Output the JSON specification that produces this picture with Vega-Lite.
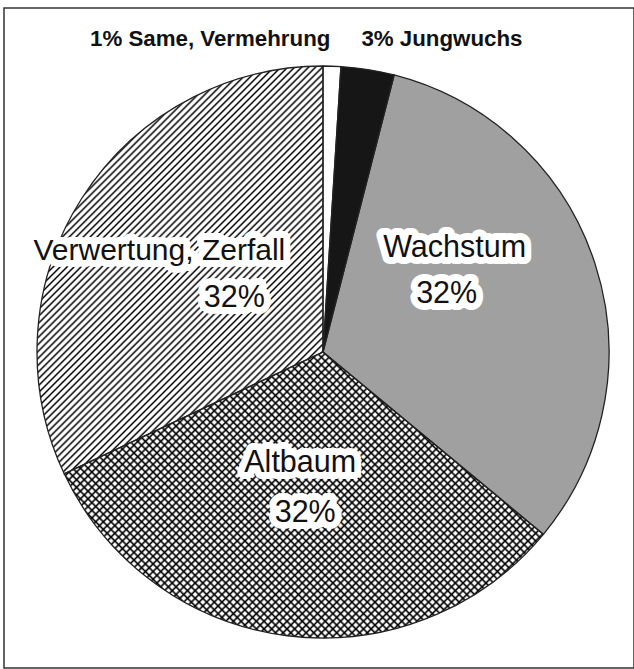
{
"$schema": "https://vega.github.io/schema/vega-lite/v6.json",
"width": 630, "height": 660,
"autosize": {"type": "none"},
"padding": {"left": 4, "top": 8, "right": 0, "bottom": 1},
"background": "white",
"view": {"stroke": "#333", "strokeWidth": 1.5, "fill": "white"},
"config": {"view": {"stroke": "#333", "strokeWidth": 1.5}},
"title": {"text": "1% Same, Vermehrung\u00a0\u00a0\u00a0\u00a0\u00a03% Jungwuchs", "anchor": "start", "frame": "group", "dx": 86, "offset": -60, "font": "Liberation Sans", "fontSize": 22.3, "fontWeight": "bold", "color": "#111", "baseline": "alphabetic"},
"data": {"values": [
{"cat": "Same", "idx": 1, "value": 1, "l1": "", "l2": ""},
{"cat": "Jungwuchs", "idx": 2, "value": 3, "l1": "", "l2": ""},
{"cat": "Wachstum", "idx": 3, "value": 32, "l1": "Wachstum", "l2": "32%"},
{"cat": "Altbaum", "idx": 4, "value": 32, "l1": "Altbaum", "l2": "32%"},
{"cat": "Verwertung", "idx": 5, "value": 32, "l1": "Verwertung, Zerfall", "l2": "32%"}
]},
"encoding": {
"theta": {"field": "value", "type": "quantitative", "stack": true},
"order": {"field": "idx", "type": "quantitative"}
},
"layer": [
{"mark": {"type": "arc", "outerRadius": 286, "xOffset": 4, "yOffset": 14},
 "encoding": {"fill": {"condition": [{"test": "datum.cat==='Jungwuchs'", "value": "#161616"}, {"test": "datum.cat==='Wachstum'", "value": "#a0a0a0"}], "value": "#ffffff"}}},
{"mark": {"type": "arc", "outerRadius": 286, "xOffset": 4, "yOffset": 14},
 "encoding": {"fill": {"condition": [
 {"test": "datum.cat==='Verwertung'", "value": {"gradient": "linear", "x1": 0, "y1": 0, "x2": 0.7995, "y2": 1.1406, "stops": [
{"offset":0,"color":"#0000"},{"offset":0.003,"color":"#000"},{"offset":0.006,"color":"#0000"},
{"offset":0.01,"color":"#0000"},{"offset":0.013,"color":"#000"},{"offset":0.016,"color":"#0000"},
{"offset":0.02,"color":"#0000"},{"offset":0.023,"color":"#000"},{"offset":0.026,"color":"#0000"},
{"offset":0.03,"color":"#0000"},{"offset":0.033,"color":"#000"},{"offset":0.036,"color":"#0000"},
{"offset":0.04,"color":"#0000"},{"offset":0.043,"color":"#000"},{"offset":0.046,"color":"#0000"},
{"offset":0.05,"color":"#0000"},{"offset":0.053,"color":"#000"},{"offset":0.056,"color":"#0000"},
{"offset":0.06,"color":"#0000"},{"offset":0.063,"color":"#000"},{"offset":0.066,"color":"#0000"},
{"offset":0.07,"color":"#0000"},{"offset":0.073,"color":"#000"},{"offset":0.076,"color":"#0000"},
{"offset":0.08,"color":"#0000"},{"offset":0.083,"color":"#000"},{"offset":0.086,"color":"#0000"},
{"offset":0.09,"color":"#0000"},{"offset":0.093,"color":"#000"},{"offset":0.096,"color":"#0000"},
{"offset":0.10,"color":"#0000"},{"offset":0.103,"color":"#000"},{"offset":0.106,"color":"#0000"},
{"offset":0.11,"color":"#0000"},{"offset":0.113,"color":"#000"},{"offset":0.116,"color":"#0000"},
{"offset":0.12,"color":"#0000"},{"offset":0.123,"color":"#000"},{"offset":0.126,"color":"#0000"},
{"offset":0.13,"color":"#0000"},{"offset":0.133,"color":"#000"},{"offset":0.136,"color":"#0000"},
{"offset":0.14,"color":"#0000"},{"offset":0.143,"color":"#000"},{"offset":0.146,"color":"#0000"},
{"offset":0.15,"color":"#0000"},{"offset":0.153,"color":"#000"},{"offset":0.156,"color":"#0000"},
{"offset":0.16,"color":"#0000"},{"offset":0.163,"color":"#000"},{"offset":0.166,"color":"#0000"},
{"offset":0.17,"color":"#0000"},{"offset":0.173,"color":"#000"},{"offset":0.176,"color":"#0000"},
{"offset":0.18,"color":"#0000"},{"offset":0.183,"color":"#000"},{"offset":0.186,"color":"#0000"},
{"offset":0.19,"color":"#0000"},{"offset":0.193,"color":"#000"},{"offset":0.196,"color":"#0000"},
{"offset":0.20,"color":"#0000"},{"offset":0.203,"color":"#000"},{"offset":0.206,"color":"#0000"},
{"offset":0.21,"color":"#0000"},{"offset":0.213,"color":"#000"},{"offset":0.216,"color":"#0000"},
{"offset":0.22,"color":"#0000"},{"offset":0.223,"color":"#000"},{"offset":0.226,"color":"#0000"},
{"offset":0.23,"color":"#0000"},{"offset":0.233,"color":"#000"},{"offset":0.236,"color":"#0000"},
{"offset":0.24,"color":"#0000"},{"offset":0.243,"color":"#000"},{"offset":0.246,"color":"#0000"},
{"offset":0.25,"color":"#0000"},{"offset":0.253,"color":"#000"},{"offset":0.256,"color":"#0000"},
{"offset":0.26,"color":"#0000"},{"offset":0.263,"color":"#000"},{"offset":0.266,"color":"#0000"},
{"offset":0.27,"color":"#0000"},{"offset":0.273,"color":"#000"},{"offset":0.276,"color":"#0000"},
{"offset":0.28,"color":"#0000"},{"offset":0.283,"color":"#000"},{"offset":0.286,"color":"#0000"},
{"offset":0.29,"color":"#0000"},{"offset":0.293,"color":"#000"},{"offset":0.296,"color":"#0000"},
{"offset":0.30,"color":"#0000"},{"offset":0.303,"color":"#000"},{"offset":0.306,"color":"#0000"},
{"offset":0.31,"color":"#0000"},{"offset":0.313,"color":"#000"},{"offset":0.316,"color":"#0000"},
{"offset":0.32,"color":"#0000"},{"offset":0.323,"color":"#000"},{"offset":0.326,"color":"#0000"},
{"offset":0.33,"color":"#0000"},{"offset":0.333,"color":"#000"},{"offset":0.336,"color":"#0000"},
{"offset":0.34,"color":"#0000"},{"offset":0.343,"color":"#000"},{"offset":0.346,"color":"#0000"},
{"offset":0.35,"color":"#0000"},{"offset":0.353,"color":"#000"},{"offset":0.356,"color":"#0000"},
{"offset":0.36,"color":"#0000"},{"offset":0.363,"color":"#000"},{"offset":0.366,"color":"#0000"},
{"offset":0.37,"color":"#0000"},{"offset":0.373,"color":"#000"},{"offset":0.376,"color":"#0000"},
{"offset":0.38,"color":"#0000"},{"offset":0.383,"color":"#000"},{"offset":0.386,"color":"#0000"},
{"offset":0.39,"color":"#0000"},{"offset":0.393,"color":"#000"},{"offset":0.396,"color":"#0000"},
{"offset":0.40,"color":"#0000"},{"offset":0.403,"color":"#000"},{"offset":0.406,"color":"#0000"},
{"offset":0.41,"color":"#0000"},{"offset":0.413,"color":"#000"},{"offset":0.416,"color":"#0000"},
{"offset":0.42,"color":"#0000"},{"offset":0.423,"color":"#000"},{"offset":0.426,"color":"#0000"},
{"offset":0.43,"color":"#0000"},{"offset":0.433,"color":"#000"},{"offset":0.436,"color":"#0000"},
{"offset":0.44,"color":"#0000"},{"offset":0.443,"color":"#000"},{"offset":0.446,"color":"#0000"},
{"offset":0.45,"color":"#0000"},{"offset":0.453,"color":"#000"},{"offset":0.456,"color":"#0000"},
{"offset":0.46,"color":"#0000"},{"offset":0.463,"color":"#000"},{"offset":0.466,"color":"#0000"},
{"offset":0.47,"color":"#0000"},{"offset":0.473,"color":"#000"},{"offset":0.476,"color":"#0000"},
{"offset":0.48,"color":"#0000"},{"offset":0.483,"color":"#000"},{"offset":0.486,"color":"#0000"},
{"offset":0.49,"color":"#0000"},{"offset":0.493,"color":"#000"},{"offset":0.496,"color":"#0000"},
{"offset":0.50,"color":"#0000"},{"offset":0.503,"color":"#000"},{"offset":0.506,"color":"#0000"},
{"offset":0.51,"color":"#0000"},{"offset":0.513,"color":"#000"},{"offset":0.516,"color":"#0000"},
{"offset":0.52,"color":"#0000"},{"offset":0.523,"color":"#000"},{"offset":0.526,"color":"#0000"},
{"offset":0.53,"color":"#0000"},{"offset":0.533,"color":"#000"},{"offset":0.536,"color":"#0000"},
{"offset":0.54,"color":"#0000"},{"offset":0.543,"color":"#000"},{"offset":0.546,"color":"#0000"},
{"offset":0.55,"color":"#0000"},{"offset":0.553,"color":"#000"},{"offset":0.556,"color":"#0000"},
{"offset":0.56,"color":"#0000"},{"offset":0.563,"color":"#000"},{"offset":0.566,"color":"#0000"},
{"offset":0.57,"color":"#0000"},{"offset":0.573,"color":"#000"},{"offset":0.576,"color":"#0000"},
{"offset":0.58,"color":"#0000"},{"offset":0.583,"color":"#000"},{"offset":0.586,"color":"#0000"},
{"offset":0.59,"color":"#0000"},{"offset":0.593,"color":"#000"},{"offset":0.596,"color":"#0000"},
{"offset":0.60,"color":"#0000"},{"offset":0.603,"color":"#000"},{"offset":0.606,"color":"#0000"},
{"offset":0.61,"color":"#0000"},{"offset":0.613,"color":"#000"},{"offset":0.616,"color":"#0000"},
{"offset":0.62,"color":"#0000"},{"offset":0.623,"color":"#000"},{"offset":0.626,"color":"#0000"},
{"offset":0.63,"color":"#0000"},{"offset":0.633,"color":"#000"},{"offset":0.636,"color":"#0000"},
{"offset":0.64,"color":"#0000"},{"offset":0.643,"color":"#000"},{"offset":0.646,"color":"#0000"},
{"offset":0.65,"color":"#0000"},{"offset":0.653,"color":"#000"},{"offset":0.656,"color":"#0000"},
{"offset":0.66,"color":"#0000"},{"offset":0.663,"color":"#000"},{"offset":0.666,"color":"#0000"},
{"offset":0.67,"color":"#0000"},{"offset":0.673,"color":"#000"},{"offset":0.676,"color":"#0000"},
{"offset":0.68,"color":"#0000"},{"offset":0.683,"color":"#000"},{"offset":0.686,"color":"#0000"},
{"offset":0.69,"color":"#0000"},{"offset":0.693,"color":"#000"},{"offset":0.696,"color":"#0000"},
{"offset":0.70,"color":"#0000"},{"offset":0.703,"color":"#000"},{"offset":0.706,"color":"#0000"},
{"offset":0.71,"color":"#0000"},{"offset":0.713,"color":"#000"},{"offset":0.716,"color":"#0000"},
{"offset":0.72,"color":"#0000"},{"offset":0.723,"color":"#000"},{"offset":0.726,"color":"#0000"},
{"offset":0.73,"color":"#0000"},{"offset":0.733,"color":"#000"},{"offset":0.736,"color":"#0000"},
{"offset":0.74,"color":"#0000"},{"offset":0.743,"color":"#000"},{"offset":0.746,"color":"#0000"},
{"offset":0.75,"color":"#0000"},{"offset":0.753,"color":"#000"},{"offset":0.756,"color":"#0000"},
{"offset":0.76,"color":"#0000"},{"offset":0.763,"color":"#000"},{"offset":0.766,"color":"#0000"},
{"offset":0.77,"color":"#0000"},{"offset":0.773,"color":"#000"},{"offset":0.776,"color":"#0000"},
{"offset":0.78,"color":"#0000"},{"offset":0.783,"color":"#000"},{"offset":0.786,"color":"#0000"},
{"offset":0.79,"color":"#0000"},{"offset":0.793,"color":"#000"},{"offset":0.796,"color":"#0000"},
{"offset":0.80,"color":"#0000"},{"offset":0.803,"color":"#000"},{"offset":0.806,"color":"#0000"},
{"offset":0.81,"color":"#0000"},{"offset":0.813,"color":"#000"},{"offset":0.816,"color":"#0000"},
{"offset":0.82,"color":"#0000"},{"offset":0.823,"color":"#000"},{"offset":0.826,"color":"#0000"},
{"offset":0.83,"color":"#0000"},{"offset":0.833,"color":"#000"},{"offset":0.836,"color":"#0000"},
{"offset":0.84,"color":"#0000"},{"offset":0.843,"color":"#000"},{"offset":0.846,"color":"#0000"},
{"offset":0.85,"color":"#0000"},{"offset":0.853,"color":"#000"},{"offset":0.856,"color":"#0000"},
{"offset":0.86,"color":"#0000"},{"offset":0.863,"color":"#000"},{"offset":0.866,"color":"#0000"},
{"offset":0.87,"color":"#0000"},{"offset":0.873,"color":"#000"},{"offset":0.876,"color":"#0000"},
{"offset":0.88,"color":"#0000"},{"offset":0.883,"color":"#000"},{"offset":0.886,"color":"#0000"},
{"offset":0.89,"color":"#0000"},{"offset":0.893,"color":"#000"},{"offset":0.896,"color":"#0000"},
{"offset":0.90,"color":"#0000"},{"offset":0.903,"color":"#000"},{"offset":0.906,"color":"#0000"},
{"offset":0.91,"color":"#0000"},{"offset":0.913,"color":"#000"},{"offset":0.916,"color":"#0000"},
{"offset":0.92,"color":"#0000"},{"offset":0.923,"color":"#000"},{"offset":0.926,"color":"#0000"},
{"offset":0.93,"color":"#0000"},{"offset":0.933,"color":"#000"},{"offset":0.936,"color":"#0000"},
{"offset":0.94,"color":"#0000"},{"offset":0.943,"color":"#000"},{"offset":0.946,"color":"#0000"},
{"offset":0.95,"color":"#0000"},{"offset":0.953,"color":"#000"},{"offset":0.956,"color":"#0000"},
{"offset":0.96,"color":"#0000"},{"offset":0.963,"color":"#000"},{"offset":0.966,"color":"#0000"},
{"offset":0.97,"color":"#0000"},{"offset":0.973,"color":"#000"},{"offset":0.976,"color":"#0000"},
{"offset":0.98,"color":"#0000"},{"offset":0.983,"color":"#000"},{"offset":0.986,"color":"#0000"},
{"offset":0.99,"color":"#0000"},{"offset":0.993,"color":"#000"},{"offset":0.996,"color":"#0000"}
]}},
 {"test": "datum.cat==='Altbaum'", "value": {"gradient": "linear", "x1": 0, "y1": 0, "x2": 1.1775, "y2": 0.7027, "stops": [
{"offset":0,"color":"#0000"},{"offset":0.003,"color":"#000"},{"offset":0.006,"color":"#0000"},
{"offset":0.01,"color":"#0000"},{"offset":0.013,"color":"#000"},{"offset":0.016,"color":"#0000"},
{"offset":0.02,"color":"#0000"},{"offset":0.023,"color":"#000"},{"offset":0.026,"color":"#0000"},
{"offset":0.03,"color":"#0000"},{"offset":0.033,"color":"#000"},{"offset":0.036,"color":"#0000"},
{"offset":0.04,"color":"#0000"},{"offset":0.043,"color":"#000"},{"offset":0.046,"color":"#0000"},
{"offset":0.05,"color":"#0000"},{"offset":0.053,"color":"#000"},{"offset":0.056,"color":"#0000"},
{"offset":0.06,"color":"#0000"},{"offset":0.063,"color":"#000"},{"offset":0.066,"color":"#0000"},
{"offset":0.07,"color":"#0000"},{"offset":0.073,"color":"#000"},{"offset":0.076,"color":"#0000"},
{"offset":0.08,"color":"#0000"},{"offset":0.083,"color":"#000"},{"offset":0.086,"color":"#0000"},
{"offset":0.09,"color":"#0000"},{"offset":0.093,"color":"#000"},{"offset":0.096,"color":"#0000"},
{"offset":0.10,"color":"#0000"},{"offset":0.103,"color":"#000"},{"offset":0.106,"color":"#0000"},
{"offset":0.11,"color":"#0000"},{"offset":0.113,"color":"#000"},{"offset":0.116,"color":"#0000"},
{"offset":0.12,"color":"#0000"},{"offset":0.123,"color":"#000"},{"offset":0.126,"color":"#0000"},
{"offset":0.13,"color":"#0000"},{"offset":0.133,"color":"#000"},{"offset":0.136,"color":"#0000"},
{"offset":0.14,"color":"#0000"},{"offset":0.143,"color":"#000"},{"offset":0.146,"color":"#0000"},
{"offset":0.15,"color":"#0000"},{"offset":0.153,"color":"#000"},{"offset":0.156,"color":"#0000"},
{"offset":0.16,"color":"#0000"},{"offset":0.163,"color":"#000"},{"offset":0.166,"color":"#0000"},
{"offset":0.17,"color":"#0000"},{"offset":0.173,"color":"#000"},{"offset":0.176,"color":"#0000"},
{"offset":0.18,"color":"#0000"},{"offset":0.183,"color":"#000"},{"offset":0.186,"color":"#0000"},
{"offset":0.19,"color":"#0000"},{"offset":0.193,"color":"#000"},{"offset":0.196,"color":"#0000"},
{"offset":0.20,"color":"#0000"},{"offset":0.203,"color":"#000"},{"offset":0.206,"color":"#0000"},
{"offset":0.21,"color":"#0000"},{"offset":0.213,"color":"#000"},{"offset":0.216,"color":"#0000"},
{"offset":0.22,"color":"#0000"},{"offset":0.223,"color":"#000"},{"offset":0.226,"color":"#0000"},
{"offset":0.23,"color":"#0000"},{"offset":0.233,"color":"#000"},{"offset":0.236,"color":"#0000"},
{"offset":0.24,"color":"#0000"},{"offset":0.243,"color":"#000"},{"offset":0.246,"color":"#0000"},
{"offset":0.25,"color":"#0000"},{"offset":0.253,"color":"#000"},{"offset":0.256,"color":"#0000"},
{"offset":0.26,"color":"#0000"},{"offset":0.263,"color":"#000"},{"offset":0.266,"color":"#0000"},
{"offset":0.27,"color":"#0000"},{"offset":0.273,"color":"#000"},{"offset":0.276,"color":"#0000"},
{"offset":0.28,"color":"#0000"},{"offset":0.283,"color":"#000"},{"offset":0.286,"color":"#0000"},
{"offset":0.29,"color":"#0000"},{"offset":0.293,"color":"#000"},{"offset":0.296,"color":"#0000"},
{"offset":0.30,"color":"#0000"},{"offset":0.303,"color":"#000"},{"offset":0.306,"color":"#0000"},
{"offset":0.31,"color":"#0000"},{"offset":0.313,"color":"#000"},{"offset":0.316,"color":"#0000"},
{"offset":0.32,"color":"#0000"},{"offset":0.323,"color":"#000"},{"offset":0.326,"color":"#0000"},
{"offset":0.33,"color":"#0000"},{"offset":0.333,"color":"#000"},{"offset":0.336,"color":"#0000"},
{"offset":0.34,"color":"#0000"},{"offset":0.343,"color":"#000"},{"offset":0.346,"color":"#0000"},
{"offset":0.35,"color":"#0000"},{"offset":0.353,"color":"#000"},{"offset":0.356,"color":"#0000"},
{"offset":0.36,"color":"#0000"},{"offset":0.363,"color":"#000"},{"offset":0.366,"color":"#0000"},
{"offset":0.37,"color":"#0000"},{"offset":0.373,"color":"#000"},{"offset":0.376,"color":"#0000"},
{"offset":0.38,"color":"#0000"},{"offset":0.383,"color":"#000"},{"offset":0.386,"color":"#0000"},
{"offset":0.39,"color":"#0000"},{"offset":0.393,"color":"#000"},{"offset":0.396,"color":"#0000"},
{"offset":0.40,"color":"#0000"},{"offset":0.403,"color":"#000"},{"offset":0.406,"color":"#0000"},
{"offset":0.41,"color":"#0000"},{"offset":0.413,"color":"#000"},{"offset":0.416,"color":"#0000"},
{"offset":0.42,"color":"#0000"},{"offset":0.423,"color":"#000"},{"offset":0.426,"color":"#0000"},
{"offset":0.43,"color":"#0000"},{"offset":0.433,"color":"#000"},{"offset":0.436,"color":"#0000"},
{"offset":0.44,"color":"#0000"},{"offset":0.443,"color":"#000"},{"offset":0.446,"color":"#0000"},
{"offset":0.45,"color":"#0000"},{"offset":0.453,"color":"#000"},{"offset":0.456,"color":"#0000"},
{"offset":0.46,"color":"#0000"},{"offset":0.463,"color":"#000"},{"offset":0.466,"color":"#0000"},
{"offset":0.47,"color":"#0000"},{"offset":0.473,"color":"#000"},{"offset":0.476,"color":"#0000"},
{"offset":0.48,"color":"#0000"},{"offset":0.483,"color":"#000"},{"offset":0.486,"color":"#0000"},
{"offset":0.49,"color":"#0000"},{"offset":0.493,"color":"#000"},{"offset":0.496,"color":"#0000"},
{"offset":0.50,"color":"#0000"},{"offset":0.503,"color":"#000"},{"offset":0.506,"color":"#0000"},
{"offset":0.51,"color":"#0000"},{"offset":0.513,"color":"#000"},{"offset":0.516,"color":"#0000"},
{"offset":0.52,"color":"#0000"},{"offset":0.523,"color":"#000"},{"offset":0.526,"color":"#0000"},
{"offset":0.53,"color":"#0000"},{"offset":0.533,"color":"#000"},{"offset":0.536,"color":"#0000"},
{"offset":0.54,"color":"#0000"},{"offset":0.543,"color":"#000"},{"offset":0.546,"color":"#0000"},
{"offset":0.55,"color":"#0000"},{"offset":0.553,"color":"#000"},{"offset":0.556,"color":"#0000"},
{"offset":0.56,"color":"#0000"},{"offset":0.563,"color":"#000"},{"offset":0.566,"color":"#0000"},
{"offset":0.57,"color":"#0000"},{"offset":0.573,"color":"#000"},{"offset":0.576,"color":"#0000"},
{"offset":0.58,"color":"#0000"},{"offset":0.583,"color":"#000"},{"offset":0.586,"color":"#0000"},
{"offset":0.59,"color":"#0000"},{"offset":0.593,"color":"#000"},{"offset":0.596,"color":"#0000"},
{"offset":0.60,"color":"#0000"},{"offset":0.603,"color":"#000"},{"offset":0.606,"color":"#0000"},
{"offset":0.61,"color":"#0000"},{"offset":0.613,"color":"#000"},{"offset":0.616,"color":"#0000"},
{"offset":0.62,"color":"#0000"},{"offset":0.623,"color":"#000"},{"offset":0.626,"color":"#0000"},
{"offset":0.63,"color":"#0000"},{"offset":0.633,"color":"#000"},{"offset":0.636,"color":"#0000"},
{"offset":0.64,"color":"#0000"},{"offset":0.643,"color":"#000"},{"offset":0.646,"color":"#0000"},
{"offset":0.65,"color":"#0000"},{"offset":0.653,"color":"#000"},{"offset":0.656,"color":"#0000"},
{"offset":0.66,"color":"#0000"},{"offset":0.663,"color":"#000"},{"offset":0.666,"color":"#0000"},
{"offset":0.67,"color":"#0000"},{"offset":0.673,"color":"#000"},{"offset":0.676,"color":"#0000"},
{"offset":0.68,"color":"#0000"},{"offset":0.683,"color":"#000"},{"offset":0.686,"color":"#0000"},
{"offset":0.69,"color":"#0000"},{"offset":0.693,"color":"#000"},{"offset":0.696,"color":"#0000"},
{"offset":0.70,"color":"#0000"},{"offset":0.703,"color":"#000"},{"offset":0.706,"color":"#0000"},
{"offset":0.71,"color":"#0000"},{"offset":0.713,"color":"#000"},{"offset":0.716,"color":"#0000"},
{"offset":0.72,"color":"#0000"},{"offset":0.723,"color":"#000"},{"offset":0.726,"color":"#0000"},
{"offset":0.73,"color":"#0000"},{"offset":0.733,"color":"#000"},{"offset":0.736,"color":"#0000"},
{"offset":0.74,"color":"#0000"},{"offset":0.743,"color":"#000"},{"offset":0.746,"color":"#0000"},
{"offset":0.75,"color":"#0000"},{"offset":0.753,"color":"#000"},{"offset":0.756,"color":"#0000"},
{"offset":0.76,"color":"#0000"},{"offset":0.763,"color":"#000"},{"offset":0.766,"color":"#0000"},
{"offset":0.77,"color":"#0000"},{"offset":0.773,"color":"#000"},{"offset":0.776,"color":"#0000"},
{"offset":0.78,"color":"#0000"},{"offset":0.783,"color":"#000"},{"offset":0.786,"color":"#0000"},
{"offset":0.79,"color":"#0000"},{"offset":0.793,"color":"#000"},{"offset":0.796,"color":"#0000"},
{"offset":0.80,"color":"#0000"},{"offset":0.803,"color":"#000"},{"offset":0.806,"color":"#0000"},
{"offset":0.81,"color":"#0000"},{"offset":0.813,"color":"#000"},{"offset":0.816,"color":"#0000"},
{"offset":0.82,"color":"#0000"},{"offset":0.823,"color":"#000"},{"offset":0.826,"color":"#0000"},
{"offset":0.83,"color":"#0000"},{"offset":0.833,"color":"#000"},{"offset":0.836,"color":"#0000"},
{"offset":0.84,"color":"#0000"},{"offset":0.843,"color":"#000"},{"offset":0.846,"color":"#0000"},
{"offset":0.85,"color":"#0000"},{"offset":0.853,"color":"#000"},{"offset":0.856,"color":"#0000"},
{"offset":0.86,"color":"#0000"},{"offset":0.863,"color":"#000"},{"offset":0.866,"color":"#0000"},
{"offset":0.87,"color":"#0000"},{"offset":0.873,"color":"#000"},{"offset":0.876,"color":"#0000"},
{"offset":0.88,"color":"#0000"},{"offset":0.883,"color":"#000"},{"offset":0.886,"color":"#0000"},
{"offset":0.89,"color":"#0000"},{"offset":0.893,"color":"#000"},{"offset":0.896,"color":"#0000"},
{"offset":0.90,"color":"#0000"},{"offset":0.903,"color":"#000"},{"offset":0.906,"color":"#0000"},
{"offset":0.91,"color":"#0000"},{"offset":0.913,"color":"#000"},{"offset":0.916,"color":"#0000"},
{"offset":0.92,"color":"#0000"},{"offset":0.923,"color":"#000"},{"offset":0.926,"color":"#0000"},
{"offset":0.93,"color":"#0000"},{"offset":0.933,"color":"#000"},{"offset":0.936,"color":"#0000"},
{"offset":0.94,"color":"#0000"},{"offset":0.943,"color":"#000"},{"offset":0.946,"color":"#0000"},
{"offset":0.95,"color":"#0000"},{"offset":0.953,"color":"#000"},{"offset":0.956,"color":"#0000"},
{"offset":0.96,"color":"#0000"},{"offset":0.963,"color":"#000"},{"offset":0.966,"color":"#0000"},
{"offset":0.97,"color":"#0000"},{"offset":0.973,"color":"#000"},{"offset":0.976,"color":"#0000"},
{"offset":0.98,"color":"#0000"},{"offset":0.983,"color":"#000"},{"offset":0.986,"color":"#0000"},
{"offset":0.99,"color":"#0000"},{"offset":0.993,"color":"#000"},{"offset":0.996,"color":"#0000"}
]}}], "value": "#0000"}}},
{"mark": {"type": "arc", "outerRadius": 286, "xOffset": 4, "yOffset": 14, "stroke": "#222", "strokeWidth": 1.3},
 "encoding": {"fill": {"condition": {"test": "datum.cat==='Altbaum'", "value": {"gradient": "linear", "x1": 0, "y1": 1, "x2": 1.1775, "y2": 0.2973, "stops": [
{"offset":0,"color":"#0000"},{"offset":0.003,"color":"#000"},{"offset":0.006,"color":"#0000"},
{"offset":0.01,"color":"#0000"},{"offset":0.013,"color":"#000"},{"offset":0.016,"color":"#0000"},
{"offset":0.02,"color":"#0000"},{"offset":0.023,"color":"#000"},{"offset":0.026,"color":"#0000"},
{"offset":0.03,"color":"#0000"},{"offset":0.033,"color":"#000"},{"offset":0.036,"color":"#0000"},
{"offset":0.04,"color":"#0000"},{"offset":0.043,"color":"#000"},{"offset":0.046,"color":"#0000"},
{"offset":0.05,"color":"#0000"},{"offset":0.053,"color":"#000"},{"offset":0.056,"color":"#0000"},
{"offset":0.06,"color":"#0000"},{"offset":0.063,"color":"#000"},{"offset":0.066,"color":"#0000"},
{"offset":0.07,"color":"#0000"},{"offset":0.073,"color":"#000"},{"offset":0.076,"color":"#0000"},
{"offset":0.08,"color":"#0000"},{"offset":0.083,"color":"#000"},{"offset":0.086,"color":"#0000"},
{"offset":0.09,"color":"#0000"},{"offset":0.093,"color":"#000"},{"offset":0.096,"color":"#0000"},
{"offset":0.10,"color":"#0000"},{"offset":0.103,"color":"#000"},{"offset":0.106,"color":"#0000"},
{"offset":0.11,"color":"#0000"},{"offset":0.113,"color":"#000"},{"offset":0.116,"color":"#0000"},
{"offset":0.12,"color":"#0000"},{"offset":0.123,"color":"#000"},{"offset":0.126,"color":"#0000"},
{"offset":0.13,"color":"#0000"},{"offset":0.133,"color":"#000"},{"offset":0.136,"color":"#0000"},
{"offset":0.14,"color":"#0000"},{"offset":0.143,"color":"#000"},{"offset":0.146,"color":"#0000"},
{"offset":0.15,"color":"#0000"},{"offset":0.153,"color":"#000"},{"offset":0.156,"color":"#0000"},
{"offset":0.16,"color":"#0000"},{"offset":0.163,"color":"#000"},{"offset":0.166,"color":"#0000"},
{"offset":0.17,"color":"#0000"},{"offset":0.173,"color":"#000"},{"offset":0.176,"color":"#0000"},
{"offset":0.18,"color":"#0000"},{"offset":0.183,"color":"#000"},{"offset":0.186,"color":"#0000"},
{"offset":0.19,"color":"#0000"},{"offset":0.193,"color":"#000"},{"offset":0.196,"color":"#0000"},
{"offset":0.20,"color":"#0000"},{"offset":0.203,"color":"#000"},{"offset":0.206,"color":"#0000"},
{"offset":0.21,"color":"#0000"},{"offset":0.213,"color":"#000"},{"offset":0.216,"color":"#0000"},
{"offset":0.22,"color":"#0000"},{"offset":0.223,"color":"#000"},{"offset":0.226,"color":"#0000"},
{"offset":0.23,"color":"#0000"},{"offset":0.233,"color":"#000"},{"offset":0.236,"color":"#0000"},
{"offset":0.24,"color":"#0000"},{"offset":0.243,"color":"#000"},{"offset":0.246,"color":"#0000"},
{"offset":0.25,"color":"#0000"},{"offset":0.253,"color":"#000"},{"offset":0.256,"color":"#0000"},
{"offset":0.26,"color":"#0000"},{"offset":0.263,"color":"#000"},{"offset":0.266,"color":"#0000"},
{"offset":0.27,"color":"#0000"},{"offset":0.273,"color":"#000"},{"offset":0.276,"color":"#0000"},
{"offset":0.28,"color":"#0000"},{"offset":0.283,"color":"#000"},{"offset":0.286,"color":"#0000"},
{"offset":0.29,"color":"#0000"},{"offset":0.293,"color":"#000"},{"offset":0.296,"color":"#0000"},
{"offset":0.30,"color":"#0000"},{"offset":0.303,"color":"#000"},{"offset":0.306,"color":"#0000"},
{"offset":0.31,"color":"#0000"},{"offset":0.313,"color":"#000"},{"offset":0.316,"color":"#0000"},
{"offset":0.32,"color":"#0000"},{"offset":0.323,"color":"#000"},{"offset":0.326,"color":"#0000"},
{"offset":0.33,"color":"#0000"},{"offset":0.333,"color":"#000"},{"offset":0.336,"color":"#0000"},
{"offset":0.34,"color":"#0000"},{"offset":0.343,"color":"#000"},{"offset":0.346,"color":"#0000"},
{"offset":0.35,"color":"#0000"},{"offset":0.353,"color":"#000"},{"offset":0.356,"color":"#0000"},
{"offset":0.36,"color":"#0000"},{"offset":0.363,"color":"#000"},{"offset":0.366,"color":"#0000"},
{"offset":0.37,"color":"#0000"},{"offset":0.373,"color":"#000"},{"offset":0.376,"color":"#0000"},
{"offset":0.38,"color":"#0000"},{"offset":0.383,"color":"#000"},{"offset":0.386,"color":"#0000"},
{"offset":0.39,"color":"#0000"},{"offset":0.393,"color":"#000"},{"offset":0.396,"color":"#0000"},
{"offset":0.40,"color":"#0000"},{"offset":0.403,"color":"#000"},{"offset":0.406,"color":"#0000"},
{"offset":0.41,"color":"#0000"},{"offset":0.413,"color":"#000"},{"offset":0.416,"color":"#0000"},
{"offset":0.42,"color":"#0000"},{"offset":0.423,"color":"#000"},{"offset":0.426,"color":"#0000"},
{"offset":0.43,"color":"#0000"},{"offset":0.433,"color":"#000"},{"offset":0.436,"color":"#0000"},
{"offset":0.44,"color":"#0000"},{"offset":0.443,"color":"#000"},{"offset":0.446,"color":"#0000"},
{"offset":0.45,"color":"#0000"},{"offset":0.453,"color":"#000"},{"offset":0.456,"color":"#0000"},
{"offset":0.46,"color":"#0000"},{"offset":0.463,"color":"#000"},{"offset":0.466,"color":"#0000"},
{"offset":0.47,"color":"#0000"},{"offset":0.473,"color":"#000"},{"offset":0.476,"color":"#0000"},
{"offset":0.48,"color":"#0000"},{"offset":0.483,"color":"#000"},{"offset":0.486,"color":"#0000"},
{"offset":0.49,"color":"#0000"},{"offset":0.493,"color":"#000"},{"offset":0.496,"color":"#0000"},
{"offset":0.50,"color":"#0000"},{"offset":0.503,"color":"#000"},{"offset":0.506,"color":"#0000"},
{"offset":0.51,"color":"#0000"},{"offset":0.513,"color":"#000"},{"offset":0.516,"color":"#0000"},
{"offset":0.52,"color":"#0000"},{"offset":0.523,"color":"#000"},{"offset":0.526,"color":"#0000"},
{"offset":0.53,"color":"#0000"},{"offset":0.533,"color":"#000"},{"offset":0.536,"color":"#0000"},
{"offset":0.54,"color":"#0000"},{"offset":0.543,"color":"#000"},{"offset":0.546,"color":"#0000"},
{"offset":0.55,"color":"#0000"},{"offset":0.553,"color":"#000"},{"offset":0.556,"color":"#0000"},
{"offset":0.56,"color":"#0000"},{"offset":0.563,"color":"#000"},{"offset":0.566,"color":"#0000"},
{"offset":0.57,"color":"#0000"},{"offset":0.573,"color":"#000"},{"offset":0.576,"color":"#0000"},
{"offset":0.58,"color":"#0000"},{"offset":0.583,"color":"#000"},{"offset":0.586,"color":"#0000"},
{"offset":0.59,"color":"#0000"},{"offset":0.593,"color":"#000"},{"offset":0.596,"color":"#0000"},
{"offset":0.60,"color":"#0000"},{"offset":0.603,"color":"#000"},{"offset":0.606,"color":"#0000"},
{"offset":0.61,"color":"#0000"},{"offset":0.613,"color":"#000"},{"offset":0.616,"color":"#0000"},
{"offset":0.62,"color":"#0000"},{"offset":0.623,"color":"#000"},{"offset":0.626,"color":"#0000"},
{"offset":0.63,"color":"#0000"},{"offset":0.633,"color":"#000"},{"offset":0.636,"color":"#0000"},
{"offset":0.64,"color":"#0000"},{"offset":0.643,"color":"#000"},{"offset":0.646,"color":"#0000"},
{"offset":0.65,"color":"#0000"},{"offset":0.653,"color":"#000"},{"offset":0.656,"color":"#0000"},
{"offset":0.66,"color":"#0000"},{"offset":0.663,"color":"#000"},{"offset":0.666,"color":"#0000"},
{"offset":0.67,"color":"#0000"},{"offset":0.673,"color":"#000"},{"offset":0.676,"color":"#0000"},
{"offset":0.68,"color":"#0000"},{"offset":0.683,"color":"#000"},{"offset":0.686,"color":"#0000"},
{"offset":0.69,"color":"#0000"},{"offset":0.693,"color":"#000"},{"offset":0.696,"color":"#0000"},
{"offset":0.70,"color":"#0000"},{"offset":0.703,"color":"#000"},{"offset":0.706,"color":"#0000"},
{"offset":0.71,"color":"#0000"},{"offset":0.713,"color":"#000"},{"offset":0.716,"color":"#0000"},
{"offset":0.72,"color":"#0000"},{"offset":0.723,"color":"#000"},{"offset":0.726,"color":"#0000"},
{"offset":0.73,"color":"#0000"},{"offset":0.733,"color":"#000"},{"offset":0.736,"color":"#0000"},
{"offset":0.74,"color":"#0000"},{"offset":0.743,"color":"#000"},{"offset":0.746,"color":"#0000"},
{"offset":0.75,"color":"#0000"},{"offset":0.753,"color":"#000"},{"offset":0.756,"color":"#0000"},
{"offset":0.76,"color":"#0000"},{"offset":0.763,"color":"#000"},{"offset":0.766,"color":"#0000"},
{"offset":0.77,"color":"#0000"},{"offset":0.773,"color":"#000"},{"offset":0.776,"color":"#0000"},
{"offset":0.78,"color":"#0000"},{"offset":0.783,"color":"#000"},{"offset":0.786,"color":"#0000"},
{"offset":0.79,"color":"#0000"},{"offset":0.793,"color":"#000"},{"offset":0.796,"color":"#0000"},
{"offset":0.80,"color":"#0000"},{"offset":0.803,"color":"#000"},{"offset":0.806,"color":"#0000"},
{"offset":0.81,"color":"#0000"},{"offset":0.813,"color":"#000"},{"offset":0.816,"color":"#0000"},
{"offset":0.82,"color":"#0000"},{"offset":0.823,"color":"#000"},{"offset":0.826,"color":"#0000"},
{"offset":0.83,"color":"#0000"},{"offset":0.833,"color":"#000"},{"offset":0.836,"color":"#0000"},
{"offset":0.84,"color":"#0000"},{"offset":0.843,"color":"#000"},{"offset":0.846,"color":"#0000"},
{"offset":0.85,"color":"#0000"},{"offset":0.853,"color":"#000"},{"offset":0.856,"color":"#0000"},
{"offset":0.86,"color":"#0000"},{"offset":0.863,"color":"#000"},{"offset":0.866,"color":"#0000"},
{"offset":0.87,"color":"#0000"},{"offset":0.873,"color":"#000"},{"offset":0.876,"color":"#0000"},
{"offset":0.88,"color":"#0000"},{"offset":0.883,"color":"#000"},{"offset":0.886,"color":"#0000"},
{"offset":0.89,"color":"#0000"},{"offset":0.893,"color":"#000"},{"offset":0.896,"color":"#0000"},
{"offset":0.90,"color":"#0000"},{"offset":0.903,"color":"#000"},{"offset":0.906,"color":"#0000"},
{"offset":0.91,"color":"#0000"},{"offset":0.913,"color":"#000"},{"offset":0.916,"color":"#0000"},
{"offset":0.92,"color":"#0000"},{"offset":0.923,"color":"#000"},{"offset":0.926,"color":"#0000"},
{"offset":0.93,"color":"#0000"},{"offset":0.933,"color":"#000"},{"offset":0.936,"color":"#0000"},
{"offset":0.94,"color":"#0000"},{"offset":0.943,"color":"#000"},{"offset":0.946,"color":"#0000"},
{"offset":0.95,"color":"#0000"},{"offset":0.953,"color":"#000"},{"offset":0.956,"color":"#0000"},
{"offset":0.96,"color":"#0000"},{"offset":0.963,"color":"#000"},{"offset":0.966,"color":"#0000"},
{"offset":0.97,"color":"#0000"},{"offset":0.973,"color":"#000"},{"offset":0.976,"color":"#0000"},
{"offset":0.98,"color":"#0000"},{"offset":0.983,"color":"#000"},{"offset":0.986,"color":"#0000"},
{"offset":0.99,"color":"#0000"},{"offset":0.993,"color":"#000"},{"offset":0.996,"color":"#0000"}
]}}, "value": "#0000"}}},
{"mark": {"type": "text", "radius": 150, "xOffset": 4, "yOffset": 14, "dx": -11, "dy": -49, "font": "Liberation Sans", "fontSize": 30.5, "align": "center", "baseline": "alphabetic", "fill": "#fff", "stroke": "#fff", "strokeWidth": 14, "strokeJoin": "round"},
 "encoding": {"text": {"condition": {"test": "datum.cat==='Wachstum'", "field": "l1"}, "value": ""}}},
{"mark": {"type": "text", "radius": 150, "xOffset": 4, "yOffset": 14, "dx": -19, "dy": -3, "font": "Liberation Sans", "fontSize": 30.5, "align": "center", "baseline": "alphabetic", "fill": "#fff", "stroke": "#fff", "strokeWidth": 14, "strokeJoin": "round"},
 "encoding": {"text": {"condition": {"test": "datum.cat==='Wachstum'", "field": "l2"}, "value": ""}}},
{"mark": {"type": "text", "radius": 150, "xOffset": 4, "yOffset": 14, "dx": -4, "dy": -29, "font": "Liberation Sans", "fontSize": 30.5, "align": "center", "baseline": "alphabetic", "fill": "#fff", "stroke": "#fff", "strokeWidth": 14, "strokeJoin": "round"},
 "encoding": {"text": {"condition": {"test": "datum.cat==='Altbaum'", "field": "l1"}, "value": ""}}},
{"mark": {"type": "text", "radius": 150, "xOffset": 4, "yOffset": 14, "dx": 1, "dy": 21, "font": "Liberation Sans", "fontSize": 30.5, "align": "center", "baseline": "alphabetic", "fill": "#fff", "stroke": "#fff", "strokeWidth": 14, "strokeJoin": "round"},
 "encoding": {"text": {"condition": {"test": "datum.cat==='Altbaum'", "field": "l2"}, "value": ""}}},
{"mark": {"type": "text", "radius": 150, "xOffset": 4, "yOffset": 14, "dx": -37, "dy": -12, "font": "Liberation Sans", "fontSize": 30, "align": "center", "baseline": "alphabetic", "fill": "#fff", "stroke": "#fff", "strokeWidth": 14, "strokeJoin": "round"},
 "encoding": {"text": {"condition": {"test": "datum.cat==='Verwertung'", "field": "l1"}, "value": ""}}},
{"mark": {"type": "text", "radius": 150, "xOffset": 4, "yOffset": 14, "dx": 38, "dy": 35, "font": "Liberation Sans", "fontSize": 30.5, "align": "center", "baseline": "alphabetic", "fill": "#fff", "stroke": "#fff", "strokeWidth": 14, "strokeJoin": "round"},
 "encoding": {"text": {"condition": {"test": "datum.cat==='Verwertung'", "field": "l2"}, "value": ""}}},
{"mark": {"type": "text", "radius": 150, "xOffset": 4, "yOffset": 14, "dx": -11, "dy": -49, "font": "Liberation Sans", "fontSize": 30.5, "align": "center", "baseline": "alphabetic", "fill": "#111"},
 "encoding": {"text": {"condition": {"test": "datum.cat==='Wachstum'", "field": "l1"}, "value": ""}}},
{"mark": {"type": "text", "radius": 150, "xOffset": 4, "yOffset": 14, "dx": -19, "dy": -3, "font": "Liberation Sans", "fontSize": 30.5, "align": "center", "baseline": "alphabetic", "fill": "#111"},
 "encoding": {"text": {"condition": {"test": "datum.cat==='Wachstum'", "field": "l2"}, "value": ""}}},
{"mark": {"type": "text", "radius": 150, "xOffset": 4, "yOffset": 14, "dx": -4, "dy": -29, "font": "Liberation Sans", "fontSize": 30.5, "align": "center", "baseline": "alphabetic", "fill": "#111"},
 "encoding": {"text": {"condition": {"test": "datum.cat==='Altbaum'", "field": "l1"}, "value": ""}}},
{"mark": {"type": "text", "radius": 150, "xOffset": 4, "yOffset": 14, "dx": 1, "dy": 21, "font": "Liberation Sans", "fontSize": 30.5, "align": "center", "baseline": "alphabetic", "fill": "#111"},
 "encoding": {"text": {"condition": {"test": "datum.cat==='Altbaum'", "field": "l2"}, "value": ""}}},
{"mark": {"type": "text", "radius": 150, "xOffset": 4, "yOffset": 14, "dx": -37, "dy": -12, "font": "Liberation Sans", "fontSize": 30, "align": "center", "baseline": "alphabetic", "fill": "#111"},
 "encoding": {"text": {"condition": {"test": "datum.cat==='Verwertung'", "field": "l1"}, "value": ""}}},
{"mark": {"type": "text", "radius": 150, "xOffset": 4, "yOffset": 14, "dx": 38, "dy": 35, "font": "Liberation Sans", "fontSize": 30.5, "align": "center", "baseline": "alphabetic", "fill": "#111"},
 "encoding": {"text": {"condition": {"test": "datum.cat==='Verwertung'", "field": "l2"}, "value": ""}}}
]
}
